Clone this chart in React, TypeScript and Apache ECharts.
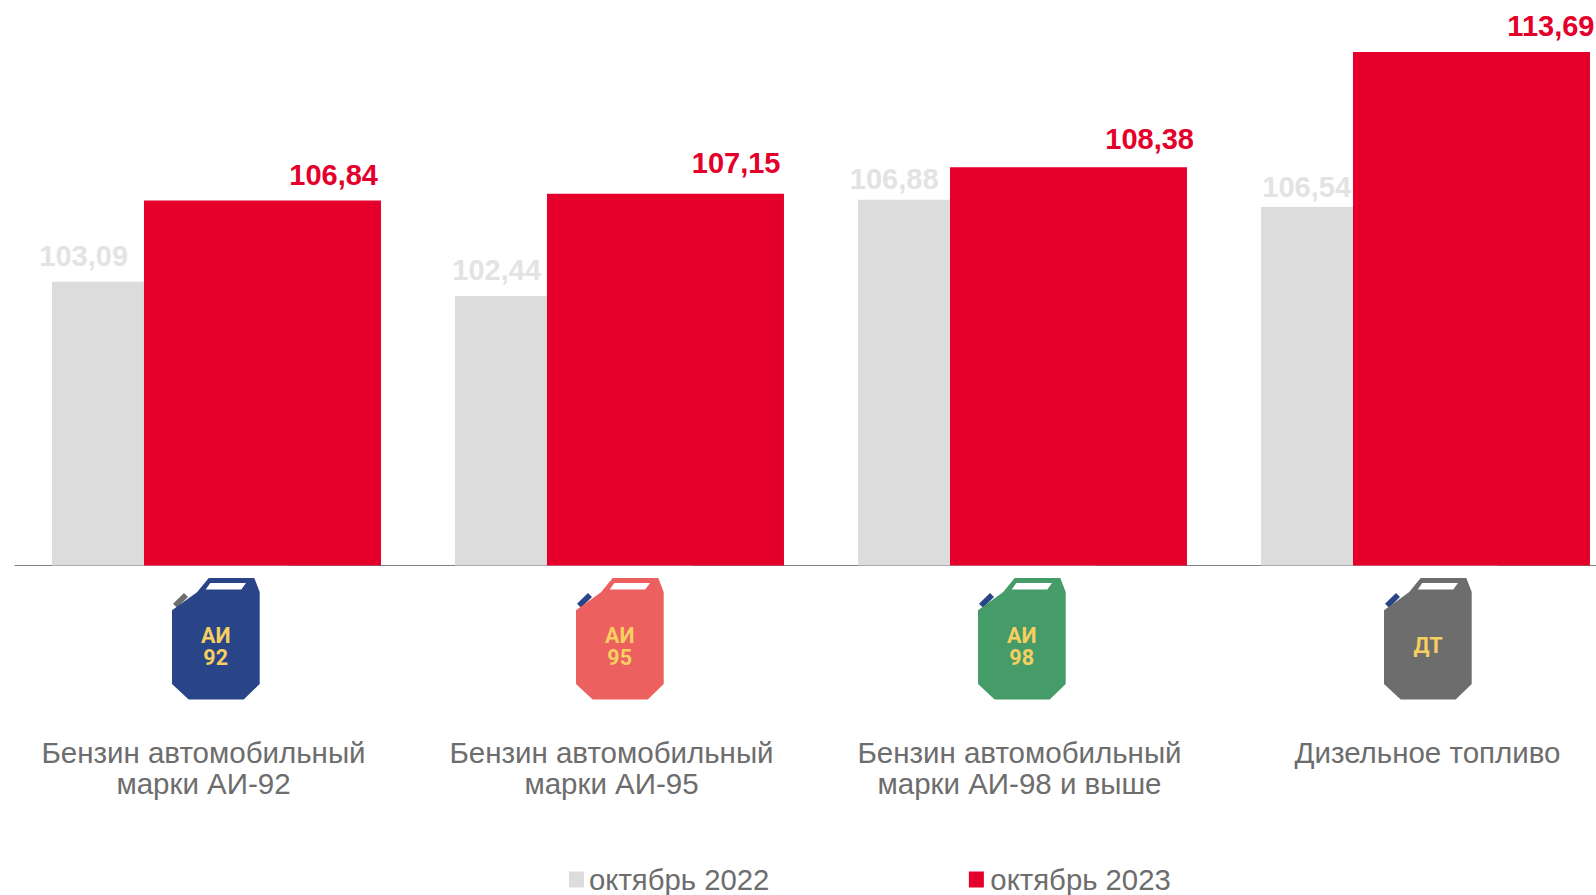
import React, { useEffect, useRef } from "react";
import * as echarts from "echarts";

const categories = [
  "Бензин автомобильный\nмарки АИ-92",
  "Бензин автомобильный\nмарки АИ-95",
  "Бензин автомобильный\nмарки АИ-98 и выше",
  "Дизельное топливо",
];
const seriesNames = ["октябрь 2022", "октябрь 2023"];
const values2022 = [103.09, 102.44, 106.88, 106.54];
const values2023 = [106.84, 107.15, 108.38, 113.69];

const FONT = '"Liberation Sans", Arial, sans-serif';
const GREY = "#dcdcdc";
const RED = "#e4002b";
const TEXT = "#6d6d6d";

// label placement relative to each bar: [x from bar edge, y from bar top]
const greyLabelPos = [[76, -25.5], [86, -25.5], [80.5, -20.5], [90, -20.5]];
const redLabelPos = [[-3, -25.5], [-3.5, -30.5], [7, -28.5], [4.5, -26]];
const catPadding = [26, 16, 6, 0];
const catPaddingLeft = [0, 0, 0, 4];

const iconSpecs = [
  { x: 172, fill: "#2a4488", cap: "#6d6d6d", lines: ["АИ", "92"] },
  { x: 576, fill: "#ec6060", cap: "#2a4488", lines: ["АИ", "95"] },
  { x: 978, fill: "#459c68", cap: "#2a4488", lines: ["АИ", "98"] },
  { x: 1384, fill: "#6d6d6d", cap: "#2a4488", lines: ["ДТ"] },
];

function pts(list: number[][]) {
  return { points: list };
}

function icon(spec: (typeof iconSpecs)[number]) {
  const textStyle = {
    fill: "#f6cf60",
    font: 'bold 21.5px Roboto, "Noto Sans", sans-serif',
    align: "center",
    verticalAlign: "middle",
  };
  const texts =
    spec.lines.length === 2
      ? [
          { type: "text", x: 43.7, y: 57.2, style: { ...textStyle, text: spec.lines[0] } },
          { type: "text", x: 43.7, y: 79.3, style: { ...textStyle, text: spec.lines[1] } },
        ]
      : [{ type: "text", x: 44, y: 67.7, style: { ...textStyle, text: spec.lines[0] } }];
  return {
    type: "group",
    x: spec.x,
    y: 578,
    children: [
      {
        type: "polygon",
        shape: pts([[1, 25.7], [12, 15], [16, 19], [5, 29.7]]),
        style: { fill: spec.cap },
      },
      {
        type: "polygon",
        shape: pts([
          [36.7, 0], [82.3, 0], [87.7, 14], [87.7, 106], [71.7, 121.5],
          [16.7, 121.5], [0, 106], [0, 32.3], [25, 14.3],
        ]),
        style: { fill: spec.fill },
      },
      {
        type: "polygon",
        shape: pts([[38.3, 5], [74, 5], [69.3, 11.5], [33.7, 11.5]]),
        style: { fill: "#ffffff" },
      },
      ...texts,
    ],
  };
}

export default function App() {
  const ref = useRef<HTMLDivElement>(null);
  useEffect(() => {
    const chart = echarts.init(ref.current!, undefined, { renderer: "svg" });
    const fmt = (v: number) => v.toFixed(2).replace(".", ",");
    chart.setOption({
      animation: false,
      backgroundColor: "#ffffff",
      textStyle: { fontFamily: FONT },
      grid: { left: 15, top: 2, width: 1612, height: 563.5, containLabel: false },
      legend: {
        left: 569,
        top: 865,
        padding: 0,
        itemWidth: 15,
        itemHeight: 16,
        itemGap: 199.5,
        icon: "rect",
        data: [
          { name: seriesNames[0] },
          { name: seriesNames[1], textStyle: { padding: [0, 0, 0, 1.5] } },
        ],
        textStyle: { color: TEXT, fontSize: 29.3, fontFamily: FONT },
      },
      xAxis: {
        type: "category",
        data: categories.map((value, i) => ({
          value,
          textStyle: { padding: [0, catPadding[i], 0, catPaddingLeft[i]] },
        })),
        axisTick: { show: false },
        axisLine: { lineStyle: { color: "#7f7f7f", width: 1 } },
        axisLabel: {
          color: TEXT,
          fontSize: 29.5,
          fontFamily: FONT,
          lineHeight: 31,
          margin: 171,
          interval: 0,
          hideOverlap: false,
        },
      },
      yAxis: { type: "value", min: 90, max: 116, show: false, splitLine: { show: false } },
      series: [
        {
          name: seriesNames[0],
          type: "bar",
          barWidth: 237,
          barGap: "-61.2%",
          itemStyle: { color: GREY },
          data: values2022.map((value, i) => ({
            value,
            label: {
              show: true,
              position: [greyLabelPos[i][0], greyLabelPos[i][1]],
              align: "right",
              verticalAlign: "middle",
              formatter: fmt(value),
              color: "#e3e3e3",
              fontSize: 29,
              fontWeight: "bold",
              fontFamily: FONT,
            },
          })),
        },
        {
          name: seriesNames[1],
          type: "bar",
          barWidth: 237,
          itemStyle: { color: RED },
          data: values2023.map((value, i) => ({
            value,
            label: {
              show: true,
              position: [237 + redLabelPos[i][0], redLabelPos[i][1]],
              align: "right",
              verticalAlign: "middle",
              formatter: fmt(value),
              color: RED,
              fontSize: 29,
              fontWeight: "bold",
              fontFamily: FONT,
            },
          })),
        },
      ],
      graphic: { elements: iconSpecs.map(icon) },
    });
    return () => chart.dispose();
  }, []);
  return (
    <div style={{ position: "fixed", left: 0, top: 0, width: 1596, height: 895, overflow: "hidden", background: "#fff" }}>
      <div ref={ref} style={{ width: 1640, height: 895 }} />
    </div>
  );
}
